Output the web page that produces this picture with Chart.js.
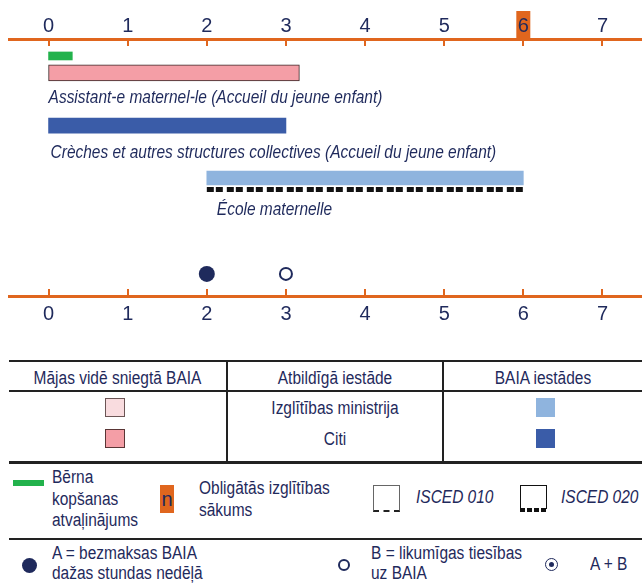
<!DOCTYPE html>
<html>
<head>
<meta charset="utf-8">
<script src="https://cdn.jsdelivr.net/npm/chart.js@4.4.1/dist/chart.umd.min.js"></script>
<style>
body { margin: 0; background: #fff; color: #1f2a5c;
       font-family: "Liberation Sans Narrow", "Liberation Sans", Arial, sans-serif; }
#wrap { position: relative; width: 642px; height: 585px; overflow: hidden; }
#chartBox { position: absolute; left: 0; top: 0; width: 642px; height: 330px; }
.hl { position: absolute; left: 9px; width: 633px; height: 2px; background: #222; }
.vl { position: absolute; top: 360px; width: 2px; height: 103px; background: #222; }
.t { position: absolute; font-size: 18px; line-height: 21px; white-space: nowrap;
     transform: scaleX(0.86); transform-origin: left center; }
.c { text-align: center; transform-origin: center center; }
.i { font-style: italic; }
.sw { position: absolute; width: 20px; height: 19px; box-sizing: border-box; }
</style>
</head>
<body>
<div id="wrap">
  <div id="chartBox"><canvas id="ageChart"></canvas></div>

  <!-- legend table -->
  <div class="hl" style="top:360px"></div>
  <div class="hl" style="top:390px"></div>
  <div class="hl" style="top:461px;height:3px"></div>
  <div class="vl" style="left:226px"></div>
  <div class="vl" style="left:442px"></div>
  <div class="t c" style="left:9px;width:217px;top:368px">Mājas vidē sniegtā BAIA</div>
  <div class="t c" style="left:228px;width:214px;top:368px">Atbildīgā iestāde</div>
  <div class="t c" style="left:444px;width:198px;top:368px">BAIA iestādes</div>
  <div class="t c" style="left:228px;width:214px;top:398px">Izglītības ministrija</div>
  <div class="t c" style="left:228px;width:214px;top:429px">Citi</div>
  <div class="sw" style="left:105px;top:398px;background:#f9dcdf;border:1px solid #6b5555"></div>
  <div class="sw" style="left:105px;top:429px;background:#f49ea6;border:1px solid #5a3535"></div>
  <div class="sw" style="left:536px;top:398px;width:19px;background:#8fb4de"></div>
  <div class="sw" style="left:536px;top:429px;width:19px;background:#3a5ca8"></div>

  <!-- symbols -->
  <div style="position:absolute;left:13px;top:480px;width:31px;height:6px;background:#22b24c"></div>
  <div class="t" style="left:52px;top:467px;line-height:21.5px">Bērna<br>kopšanas<br>atvaļinājums</div>
  <div style="position:absolute;left:160px;top:485px;width:14px;height:28px;background:#e0661e;
              text-align:center;font-size:20px;line-height:28px">n</div>
  <div class="t" style="left:199px;top:477px;line-height:22px">Obligātās izglītības<br>sākums</div>
  <div style="position:absolute;left:373px;top:485px;width:27px;height:27px;box-sizing:border-box;
              border:1px solid #666;border-bottom:2px dashed #222"></div>
  <div class="t i" style="left:416px;top:487px">ISCED 010</div>
  <div style="position:absolute;left:520px;top:485px;width:27px;height:24px;box-sizing:border-box;
              border:1.5px solid #111;border-bottom:none"></div>
  <div style="position:absolute;left:520px;top:508px;width:27px;height:4px;
              background:repeating-linear-gradient(90deg,#111 0 5px,transparent 5px 7px)"></div>
  <div class="t i" style="left:561px;top:487px">ISCED 020</div>
  <div class="hl" style="top:538px"></div>

  <div style="position:absolute;left:22px;top:558px;width:15px;height:15px;border-radius:50%;background:#1f2a5c"></div>
  <div class="t" style="left:52px;top:543px;line-height:20px">A = bezmaksas BAIA<br>dažas stundas nedēļā</div>
  <div style="position:absolute;left:338px;top:559px;width:12px;height:12px;box-sizing:border-box;
              border:2px solid #1f2a5c;border-radius:50%"></div>
  <div class="t" style="left:371px;top:543px;line-height:20px">B = likumīgas tiesības<br>uz BAIA</div>
  <div style="position:absolute;left:545px;top:558px;width:13px;height:13px;box-sizing:border-box;
              border:1.5px solid #1f2a5c;border-radius:50%"></div>
  <div style="position:absolute;left:549px;top:562px;width:5px;height:5px;border-radius:50%;background:#1f2a5c"></div>
  <div class="t" style="left:590px;top:554px">A + B</div>
</div>

<script>
// ages on both axes
var AGES = [0, 1, 2, 3, 4, 5, 6, 7];
var COMPULSORY_AGE = 6;

// age ranges [from, to]
var CHILDCARE_LEAVE = [0, 0.3];
var HOME_BASED = [0, 3.17];
var CRECHES = [0, 3];
var ECOLE = [2, 6];

var FREE_HOURS_AGE = 2;   // A
var ENTITLEMENT_AGE = 3;  // B

var BAR_LABELS = [
    "Assistant-e maternel-le (Accueil du jeune enfant)",
    "Crèches et autres structures collectives (Accueil du jeune enfant)",
    "École maternelle"
];

// vertical lanes (layout only)
var LANE = { leave: 0.66, home: 1.32, homeText: 2.30, creche: 3.37, crecheText: 4.44,
             ecole: 5.41, isced: 5.86, ecoleText: 6.65, dots: 9.14 };

var ORANGE = '#e0661e';
var NAVY = '#1f2a5c';
var FONT = '"Liberation Sans Narrow", "Liberation Sans", Arial, sans-serif';
var SQUEEZE = 0.86;

var decorations = {
    id: 'decorations',
    beforeDraw: function(chart) {
        var ctx = chart.ctx, xs = chart.scales.x, top = chart.chartArea.top;
        var px = xs.getPixelForValue(COMPULSORY_AGE);
        ctx.save();
        ctx.fillStyle = ORANGE;
        ctx.fillRect(px - 7, top - 28, 14, 28);
        ctx.restore();
    },
    afterDatasetsDraw: function(chart) {
        var ctx = chart.ctx, xs = chart.scales.x, ys = chart.scales.y;
        var items = [
            [BAR_LABELS[0], HOME_BASED[0], LANE.homeText, 0],
            [BAR_LABELS[1], CRECHES[0], LANE.crecheText, 2],
            [BAR_LABELS[2], ECOLE[0], LANE.ecoleText, 10]
        ];
        ctx.font = 'italic 18px ' + FONT;
        ctx.fillStyle = NAVY;
        ctx.textAlign = 'left';
        ctx.textBaseline = 'middle';
        items.forEach(function(it) {
            ctx.save();
            ctx.translate(xs.getPixelForValue(it[1]) + it[3], ys.getPixelForValue(it[2]));
            ctx.scale(SQUEEZE, 1);
            ctx.fillText(it[0], 0, 0);
            ctx.restore();
        });
    },
    afterDraw: function(chart) {
        var ctx = chart.ctx, xs = chart.scales.x, a = chart.chartArea;
        ctx.save();
        ctx.strokeStyle = ORANGE;
        ctx.lineWidth = 2;
        AGES.forEach(function(v) {
            var px = Math.round(xs.getPixelForValue(v));
            ctx.beginPath();
            ctx.moveTo(px, a.top);
            ctx.lineTo(px, a.top + 7);
            ctx.moveTo(px, a.bottom - 7);
            ctx.lineTo(px, a.bottom);
            ctx.stroke();
        });
        ctx.restore();
    }
};

function ageAxis(position, padding, boxHeight) {
    return {
        type: 'linear',
        position: position,
        offset: false,
        min: -0.5,
        max: 7.5,
        afterBuildTicks: function(scale) {
            scale.ticks = AGES.map(function(v) { return { value: v }; });
        },
        afterFit: function(scale) {
            scale.paddingLeft = 0;
            scale.paddingRight = 0;
            scale.height = boxHeight;
        },
        grid: { display: false, drawTicks: false },
        border: { display: true, color: ORANGE, width: 3 },
        ticks: {
            padding: padding,
            color: NAVY,
            font: { family: FONT, size: 20 }
        }
    };
}

var ctx1 = document.getElementById('ageChart');
var ageChart = new Chart(ctx1, {
    type: 'bar',
    plugins: [decorations],
    options: {
        responsive: true,
        maintainAspectRatio: false,
        animation: false,
        layout: { autoPadding: false, padding: { left: 9, right: 0, top: 0, bottom: 0 } },
        plugins: { legend: { display: false }, tooltip: { enabled: false } },
        scales: {
            x: ageAxis('top', 1, 39),
            x2: ageAxis('bottom', 6, 34),
            y: { type: 'linear', offset: false, min: 0, max: 10, reverse: true, display: false }
        }
    },
    data: {
        datasets: [
            {
                indexAxis: 'y', grouped: false,
                data: [{ x: CHILDCARE_LEAVE, y: LANE.leave }],
                barThickness: 8,
                backgroundColor: '#22b24c'
            },
            {
                indexAxis: 'y', grouped: false,
                data: [{ x: HOME_BASED, y: LANE.home }],
                barThickness: 16,
                backgroundColor: '#f49ea6',
                borderColor: '#3a2626',
                borderWidth: 1,
                borderSkipped: false
            },
            {
                indexAxis: 'y', grouped: false,
                data: [{ x: CRECHES, y: LANE.creche }],
                barThickness: 15,
                backgroundColor: '#3a5ca8'
            },
            {
                indexAxis: 'y', grouped: false,
                data: [{ x: ECOLE, y: LANE.ecole }],
                barThickness: 14,
                backgroundColor: '#8fb4de'
            },
            {
                type: 'line',
                data: [{ x: ECOLE[0], y: LANE.isced }, { x: ECOLE[1], y: LANE.isced }],
                borderColor: '#111',
                borderWidth: 5,
                borderDash: [7, 2, 7, 4],
                borderCapStyle: 'butt',
                pointRadius: 0
            },
            {
                type: 'line', showLine: false,
                data: [{ x: FREE_HOURS_AGE, y: LANE.dots }],
                pointRadius: 8,
                pointBorderWidth: 0,
                pointBackgroundColor: NAVY
            },
            {
                type: 'line', showLine: false,
                data: [{ x: ENTITLEMENT_AGE, y: LANE.dots }],
                pointRadius: 6,
                pointBorderWidth: 2,
                pointBorderColor: NAVY,
                pointBackgroundColor: '#fff'
            }
        ]
    }
});
</script>
</body>
</html>
